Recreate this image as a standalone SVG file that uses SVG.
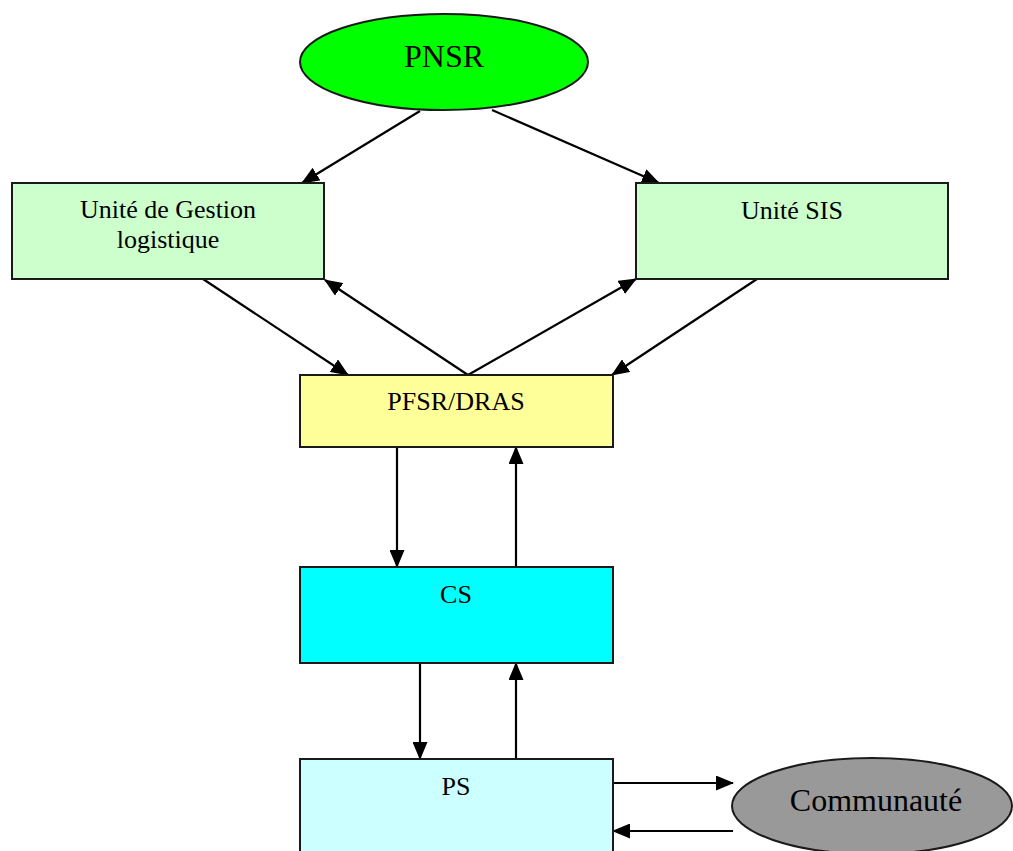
<svg xmlns="http://www.w3.org/2000/svg" width="1013" height="851" viewBox="0 0 1013 851">
<style>
.box{stroke:#1a1a1a;stroke-width:2}
.t{font-family:"Liberation Serif","Times New Roman",serif;font-size:26px;fill:#000;text-anchor:middle}
.tl{font-family:"Liberation Serif","Times New Roman",serif;font-size:32px;fill:#000;text-anchor:middle}
.c{stroke:#000;stroke-width:2.2;fill:none;marker-end:url(#ah)}
</style>
<defs>
<marker id="ah" markerUnits="userSpaceOnUse" markerWidth="18" markerHeight="15" viewBox="0 0 18 15" refX="17" refY="7.5" orient="auto">
<path d="M0,0 L18,7.5 L0,15 Z" fill="#000"/>
</marker>
</defs>
<rect width="1013" height="851" fill="#fff"/>
<g id="connectors">
<line class="c" x1="420" y1="111" x2="302" y2="183"/>
<line class="c" x1="492" y1="110" x2="659" y2="183"/>
<line class="c" x1="203" y1="279" x2="348" y2="375"/>
<line class="c" x1="468" y1="375" x2="325" y2="280"/>
<line class="c" x1="468" y1="375" x2="636" y2="279"/>
<line class="c" x1="757" y1="279" x2="612" y2="375"/>
<line class="c" x1="397" y1="447" x2="397" y2="567"/>
<line class="c" x1="516" y1="567" x2="516" y2="447"/>
<line class="c" x1="420" y1="663" x2="420" y2="759"/>
<line class="c" x1="516" y1="759" x2="516" y2="663"/>
<line class="c" x1="613" y1="783" x2="733" y2="783"/>
<line class="c" x1="733" y1="831" x2="613" y2="831"/>
</g>
<g id="pnsr">
<ellipse class="box" cx="444" cy="62" rx="144" ry="48" fill="#00ff00"/>
<text class="tl" x="444" y="67">PNSR</text>
</g>
<g id="ugl">
<rect class="box" x="12" y="183" width="312" height="96" fill="#ccffcc"/>
<text class="t" x="168" y="218">Unité de Gestion</text>
<text class="t" x="168" y="248">logistique</text>
</g>
<g id="sis">
<rect class="box" x="636" y="183" width="312" height="96" fill="#ccffcc"/>
<text class="t" x="792" y="219">Unité SIS</text>
</g>
<g id="pfsr">
<rect class="box" x="300" y="375" width="313" height="72" fill="#ffff99"/>
<text class="t" x="456" y="410">PFSR/DRAS</text>
</g>
<g id="cs">
<rect class="box" x="300" y="567" width="313" height="96" fill="#00ffff"/>
<text class="t" x="456" y="603">CS</text>
</g>
<g id="ps">
<rect class="box" x="300" y="759" width="313" height="110" fill="#ccffff"/>
<text class="t" x="456" y="795">PS</text>
</g>
<g id="communaute">
<ellipse class="box" cx="872" cy="806" rx="140" ry="48" fill="#999999"/>
<text class="tl" x="876" y="811">Communauté</text>
</g>
</svg>
